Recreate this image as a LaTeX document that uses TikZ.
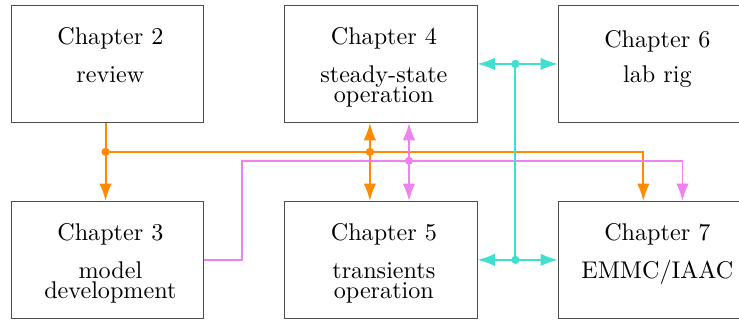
\documentclass[tikz,border=0pt]{standalone}
\usetikzlibrary{arrows.meta,positioning,calc}

\definecolor{chorange}{HTML}{FF8C00}
\definecolor{chviolet}{HTML}{EE82EE}
\definecolor{chturq}{HTML}{40E0D0}

\begin{document}
\begin{tikzpicture}[auto, node distance=32.3pt and 33.3pt, >={Latex[length=7.2pt,width=5.2pt]},
    chapbox/.style={draw=black!70, rectangle, minimum width=79.5pt, minimum height=48.4pt, inner sep=0pt},
    chaptext/.style={align=center, inner sep=0pt, anchor=north, xshift=1.2pt},
    orangeline/.style={draw=chorange, thick},
    violetline/.style={draw=chviolet, thick},
    turqline/.style={draw=chturq, thick}]
        \node [chapbox] (ch2) {};
        \node [chapbox, right=of ch2] (ch4) {};
        \node [chapbox, right=of ch4] (ch6) {};
        \node [chapbox, below=of ch2] (ch3) {};
        \node [chapbox, below=of ch4] (ch5) {};
        \node [chapbox, below=of ch6] (ch7) {};

        \node [chaptext, below=9.2pt of ch2.north] (t2) {Chapter 2\\[3.7pt]review};
        \node [chaptext, below=9.2pt of ch4.north] (t4) {Chapter 4\\[3.7pt]steady-state\\[-3.7pt]operation};
        \node [chaptext, below=10.4pt of ch6.north] (t6) {Chapter 6\\[2.5pt]lab rig};
        \node [chaptext, below=9.2pt of ch3.north] (t3) {Chapter 3\\[3.7pt]model\\[-3.7pt]development};
        \node [chaptext, below=9.2pt of ch5.north] (t5) {Chapter 5\\[3.7pt]transients\\[-3.7pt]operation};
        \node [chaptext, below=9.2pt of ch7.north] (t7) {Chapter 7\\[3.7pt]EMMC/IAAC};

        \coordinate (ob) at ($(ch2.south)+(-0.8pt,-12pt)$);
        \coordinate (oc) at ([xshift=-4.6pt]ch4.south |- ob);
        \coordinate (vj) at ($(ch3.east)+(15.7pt,0)$);
        \coordinate (vb) at ($([xshift=11.6pt]ch4.south)+(0,-15.7pt)$);
        \coordinate (tu) at ($(ch4.east)+(15.7pt,0)$);
        \coordinate (tl) at ($(ch5.east)+(15.7pt,0)$);

        \draw [orangeline] ([xshift=-0.8pt]ch2.south) -- (ob);
        \draw [orangeline, ->] (ob) -- ([xshift=-0.8pt]ch3.north);
        \draw [orangeline, ->] (ob) -| ([xshift=-4.6pt]ch7.north);
        \draw [orangeline, <->] ([xshift=-4.6pt]ch4.south) -- ([xshift=-4.6pt]ch5.north);
        \fill [chorange] (ob) circle (1.7pt) (oc) circle (1.7pt);

        \draw [violetline, ->] (ch3.east) -- (vj) |- (vb) -| ([xshift=11.6pt]ch7.north);
        \draw [violetline, <->] ([xshift=11.6pt]ch4.south) -- ([xshift=11.6pt]ch5.north);
        \fill [chviolet] (vb) circle (1.7pt);

        \draw [turqline, ->] (tu) -- (ch4.east);
        \draw [turqline, ->] (tu) -- (ch6.west);
        \draw [turqline] (tu) -- (tl);
        \draw [turqline, ->] (tl) -- (ch5.east);
        \draw [turqline, ->] (tl) -- (ch7.west);
        \fill [chturq] (tu) circle (1.7pt) (tl) circle (1.7pt);

        \pgfresetboundingbox
        \useasboundingbox ($(ch2.north west)+(-4.55pt,2.07pt)$) rectangle ++(305.9pt,-132.5pt);
    \end{tikzpicture}
\end{document}
